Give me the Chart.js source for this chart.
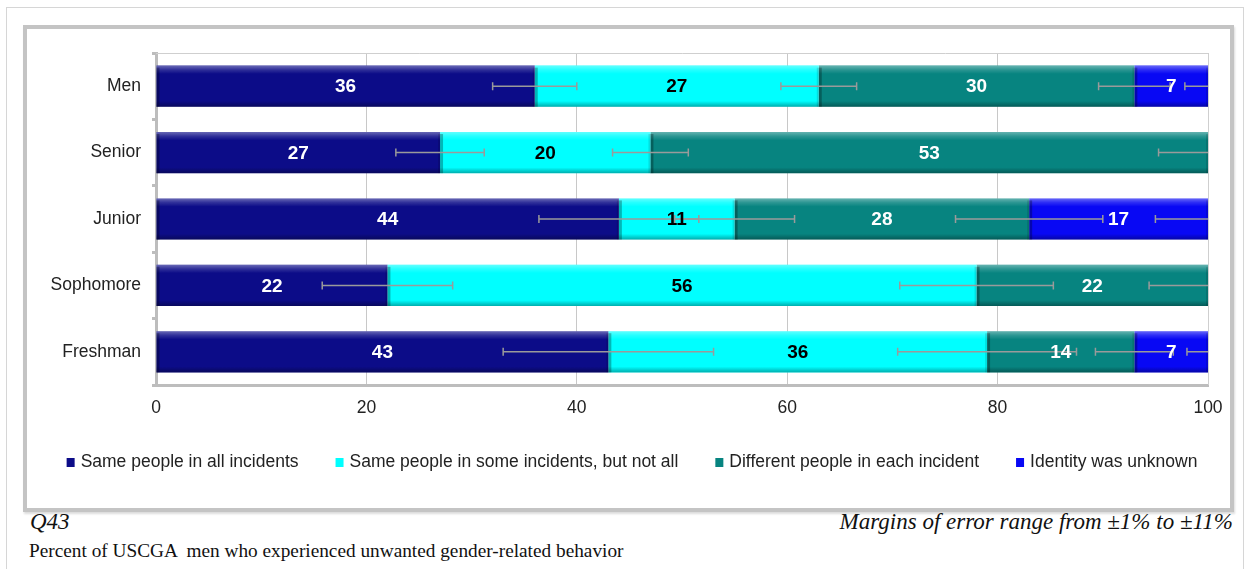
<!DOCTYPE html>
<html>
<head>
<meta charset="utf-8">
<script src="https://cdn.jsdelivr.net/npm/chart.js@4.4.1/dist/chart.umd.min.js"></script>
<style>
body{margin:0;width:1250px;height:569px;background:#fff;position:relative;overflow:hidden;font-family:"Liberation Sans",Arial,sans-serif}
#outer{position:absolute;left:6px;top:7px;width:1238px;height:600px;border:1px solid #d6d6d6;box-sizing:border-box}
#frame{position:absolute;left:23px;top:25px;width:1211px;height:487px;border:4px solid #c4c4c4;box-sizing:border-box;box-shadow:1px 2px 2px #dcdcdc}
#wrap{position:absolute;left:28px;top:30px;width:1200px;height:476px}
.note{position:absolute;font-family:"Liberation Serif","Times New Roman",serif;color:#111;white-space:pre}
</style>
</head>
<body>
<div id="outer"></div>
<div id="frame"></div>
<div id="wrap"><canvas id="chart" width="1200" height="476"></canvas></div>
<div class="note" style="left:30px;top:509px;font-size:23px;font-style:italic">Q43</div>
<div class="note" style="right:17px;top:509px;font-size:23px;font-style:italic">Margins of error range from ±1% to ±11%</div>
<div class="note" style="left:29px;top:540px;font-size:19.3px">Percent of USCGA  men who experienced unwanted gender-related behavior</div>
<script>
// values
var categories = ['Men', 'Senior', 'Junior', 'Sophomore', 'Freshman'];
var seriesNames = ['Same people in all incidents', 'Same people in some incidents, but not all', 'Different people in each incident', 'Identity was unknown'];
var sameAll = [36, 27, 44, 22, 43];
var sameSome = [27, 20, 11, 56, 36];
var different = [30, 53, 28, 22, 14];
var unknown = [7, 0, 17, 0, 7];
// margins of error, drawn at the end of each stacked segment
var errSameAll = [4, 4.2, 7.6, 6.2, 10];
var errSameSome = [3.6, 3.6, 5.7, 7.3, 8.5];
var errDifferent = [3.4, 4.7, 7, 5.6, 3.7];
var errUnknown = [2.2, 0, 5, 0, 2];
var xTicks = [0, 20, 40, 60, 80, 100];

var colors = ['#0c0c88', '#00ffff', '#078480', '#0808f4'];
var labelColors = ['#fff', '#000', '#fff', '#fff'];
var values = [sameAll, sameSome, different, unknown];
var errors = [errSameAll, errSameSome, errDifferent, errUnknown];

function bevel(ctx, l, t, r, b) {
    var g = ctx.createLinearGradient(0, t, 0, b);
    g.addColorStop(0, 'rgba(255,255,255,0.38)');
    g.addColorStop(0.1, 'rgba(255,255,255,0.15)');
    g.addColorStop(0.2, 'rgba(255,255,255,0)');
    g.addColorStop(0.86, 'rgba(0,0,0,0)');
    g.addColorStop(1, 'rgba(0,0,0,0.32)');
    ctx.fillStyle = g;
    ctx.fillRect(l, t, r - l, b - t);
    ctx.fillStyle = 'rgba(0,0,0,0.28)';
    ctx.fillRect(l, t + 2, 3, b - t - 2);
    ctx.fillStyle = 'rgba(0,0,0,0.12)';
    ctx.fillRect(r - 2, t + 2, 2, b - t - 2);
}

var overlay = {
    id: 'overlay',
    beforeDatasetsDraw: function(chart) {
        var ctx = chart.ctx, a = chart.chartArea;
        ctx.save();
        ctx.strokeStyle = '#cfcfcf';
        ctx.lineWidth = 1;
        ctx.beginPath();
        ctx.moveTo(a.left, a.top + 0.5);
        ctx.lineTo(a.right + 0.5, a.top + 0.5);
        ctx.lineTo(a.right + 0.5, a.bottom);
        ctx.stroke();
        ctx.restore();
    },
    afterDatasetsDraw: function(chart) {
        var ctx = chart.ctx, a = chart.chartArea, xs = chart.scales.x;
        ctx.save();
        ctx.beginPath();
        ctx.rect(a.left, a.top - 5, a.right - a.left, a.bottom - a.top + 10);
        ctx.clip();
        // bevel
        chart.data.datasets.forEach(function(ds, i) {
            chart.getDatasetMeta(i).data.forEach(function(bar, j) {
                if (!ds.data[j]) return;
                var l = Math.min(bar.x, bar.base), r = Math.max(bar.x, bar.base);
                bevel(ctx, l, bar.y - bar.height / 2, r, bar.y + bar.height / 2);
            });
        });
        // error bars
        ctx.strokeStyle = '#9a9a9a';
        ctx.lineWidth = 1.5;
        for (var j = 0; j < categories.length; j++) {
            var cum = 0;
            for (var i = 0; i < values.length; i++) {
                cum += values[i][j];
                if (!values[i][j] || !errors[i][j]) continue;
                var y = chart.getDatasetMeta(i).data[j].y;
                var x1 = xs.getPixelForValue(cum - errors[i][j]);
                var x2 = xs.getPixelForValue(cum + errors[i][j]);
                ctx.beginPath();
                ctx.moveTo(x1, y); ctx.lineTo(x2, y);
                ctx.moveTo(x1, y - 4); ctx.lineTo(x1, y + 4);
                ctx.moveTo(x2, y - 4); ctx.lineTo(x2, y + 4);
                ctx.stroke();
            }
        }
        ctx.restore();
        // value labels
        ctx.save();
        ctx.font = 'bold 19px "Liberation Sans", Arial, sans-serif';
        ctx.textAlign = 'center';
        ctx.textBaseline = 'middle';
        chart.data.datasets.forEach(function(ds, i) {
            chart.getDatasetMeta(i).data.forEach(function(bar, j) {
                if (!ds.data[j]) return;
                ctx.fillStyle = labelColors[i];
                ctx.fillText(String(ds.data[j]), (bar.x + bar.base) / 2, bar.y + 1);
            });
        });
        ctx.restore();
    },
    afterDraw: function(chart) {
        // legend
        var ctx = chart.ctx;
        ctx.save();
        ctx.font = '17.5px "Liberation Sans", Arial, sans-serif';
        ctx.textBaseline = 'middle';
        var box = 8, gap = 6, spacing = 37;
        var widths = chart.data.datasets.map(function(ds) { return box + gap + ctx.measureText(ds.label).width; });
        var total = widths.reduce(function(s, w) { return s + w; }, 0) + spacing * (widths.length - 1);
        var x = (chart.width - total) / 2 + 4, y = 432;
        chart.data.datasets.forEach(function(ds, i) {
            ctx.fillStyle = ds.backgroundColor;
            ctx.fillRect(x, y - 4, box, 9);
            ctx.fillStyle = '#222';
            ctx.fillText(ds.label, x + box + gap, y);
            x += widths[i] + spacing;
        });
        ctx.restore();
    }
};

new Chart(document.getElementById('chart'), {
    type: 'bar',
    data: {
        labels: categories,
        datasets: values.map(function(v, i) {
            return {
                label: seriesNames[i],
                data: v,
                backgroundColor: colors[i],
                borderWidth: 0,
                categoryPercentage: 1,
                barPercentage: 0.62
            };
        })
    },
    options: {
        indexAxis: 'y',
        responsive: false,
        animation: false,
        layout: { padding: { top: 23, right: 20, bottom: 81, left: 0 } },
        plugins: { legend: { display: false }, tooltip: { enabled: false } },
        scales: {
            x: {
                stacked: true,
                min: 0,
                max: 100,
                afterBuildTicks: function(s) { s.ticks = xTicks.map(function(v) { return { value: v }; }); },
                afterFit: function(s) { s.height = 40; s.paddingLeft = 0; s.paddingRight = 0; },
                grid: { color: '#c8c8c8', lineWidth: 1, drawTicks: false },
                border: { color: '#bdbdbd', width: 3 },
                ticks: { padding: 13, color: '#222', font: { size: 17.5, family: '"Liberation Sans", Arial, sans-serif' } }
            },
            y: {
                stacked: true,
                afterFit: function(s) { s.width = 128; },
                grid: { offset: true, drawOnChartArea: false, drawTicks: true, tickLength: 4, color: '#bdbdbd', lineWidth: 3 },
                border: { color: '#bdbdbd', width: 3 },
                ticks: { padding: 11, color: '#222', font: { size: 17.5, family: '"Liberation Sans", Arial, sans-serif' } }
            }
        }
    },
    plugins: [overlay]
});
</script>
</body>
</html>
